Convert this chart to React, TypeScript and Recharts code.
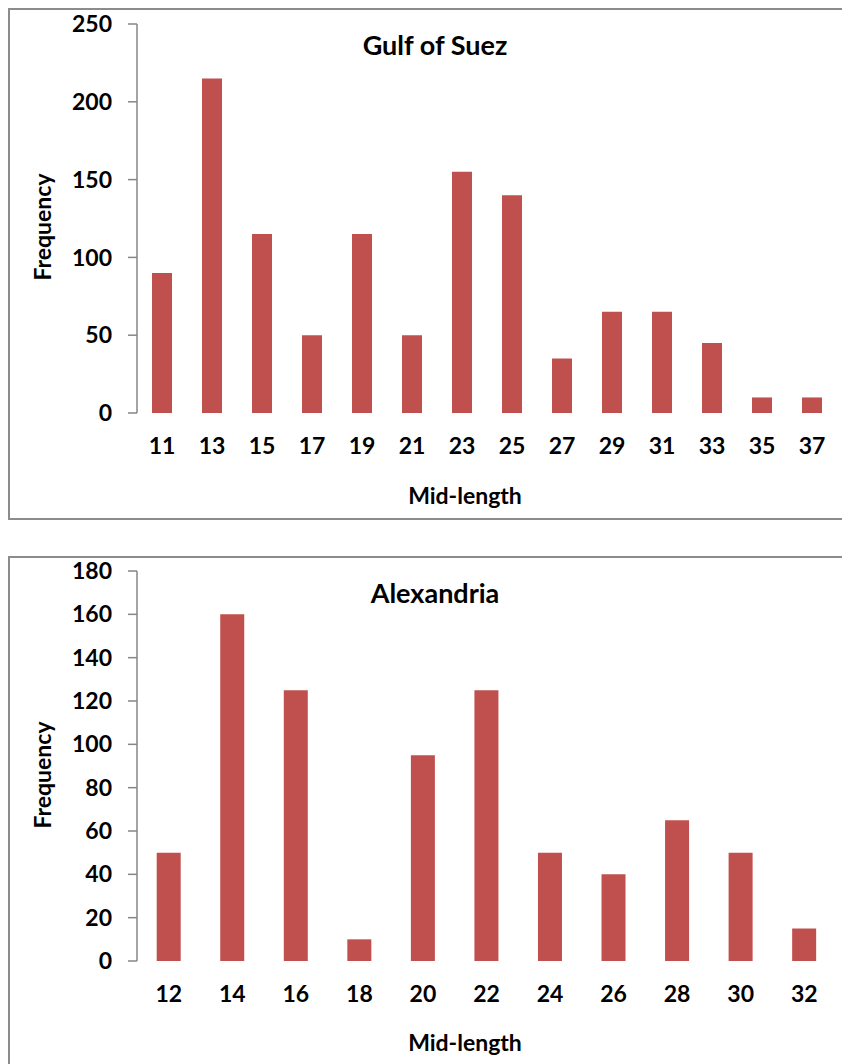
import { BarChart, Bar, XAxis, YAxis } from "recharts";

// Gulf of Suez
const suezLengths = [11, 13, 15, 17, 19, 21, 23, 25, 27, 29, 31, 33, 35, 37];
const suezFreq = [90, 215, 115, 50, 115, 50, 155, 140, 35, 65, 65, 45, 10, 10];
const suezTicks = [0, 50, 100, 150, 200, 250];

// Alexandria
const alexLengths = [12, 14, 16, 18, 20, 22, 24, 26, 28, 30, 32];
const alexFreq = [50, 160, 125, 10, 95, 125, 50, 40, 65, 50, 15];
const alexTicks = [0, 20, 40, 60, 80, 100, 120, 140, 160, 180];

const FONT = "Lato, 'Open Sans', sans-serif";
const AXIS = "#868686";
const BAR = "#C0504D";
const PAD = 20; // extra room above the plot so top tick labels are not clipped

interface PanelProps {
  title: string;
  lengths: number[];
  freq: number[];
  yTicks: number[];
  gap: string;
  height: number;
  marginRight: number;
  marginBottom: number;
  marginTop: number;
  style?: React.CSSProperties;
}

function Panel({ title, lengths, freq, yTicks, gap, height, marginRight, marginBottom, marginTop, style }: PanelProps) {
  const data = lengths.map((len, i) => ({ len, freq: freq[i] }));
  const edges = Array.from({ length: lengths.length + 1 }, (_, i) => i);
  return (
    <div
      style={{
        position: "relative",
        width: 860,
        height,
        border: "2px solid #8c8c8c",
        background: "#fff",
        ...style,
      }}
    >
      <div style={{ position: "absolute", left: 0, top: -PAD }}>
        <BarChart
          width={840}
          height={height + PAD}
          data={data}
          barCategoryGap={gap}
          margin={{ top: marginTop + PAD, right: marginRight, bottom: marginBottom, left: 57 }}
        >
          <XAxis
            xAxisId="edges"
            type="number"
            domain={[0, lengths.length]}
            ticks={edges}
            tick={false}
            tickSize={8}
            height={0}
            axisLine={{ stroke: AXIS, strokeWidth: 1.5 }}
            tickLine={{ stroke: AXIS, strokeWidth: 1.5 }}
          />
          <XAxis
            xAxisId="cat"
            dataKey="len"
            axisLine={false}
            tickLine={false}
            tickSize={0}
            tickMargin={25}
            height={40}
            interval={0}
            tick={{ fill: "#000", fontSize: 23, fontWeight: 700, fontFamily: FONT }}
          />
          <YAxis
            width={70}
            domain={[0, yTicks[yTicks.length - 1]]}
            ticks={yTicks}
            interval={0}
            tickSize={9}
            tickMargin={16}
            axisLine={{ stroke: AXIS, strokeWidth: 1.5 }}
            tickLine={{ stroke: AXIS, strokeWidth: 1.5 }}
            tick={{ fill: "#000", fontSize: 23, fontWeight: 700, fontFamily: FONT }}
          />
          <Bar xAxisId="cat" dataKey="freq" fill={BAR} isAnimationActive={false} />
        </BarChart>
      </div>
      <div
        style={{
          position: "absolute",
          left: 425,
          top: 34,
          transform: "translate(-50%, -50%)",
          fontFamily: FONT,
          fontWeight: 700,
          fontSize: 27,
          whiteSpace: "nowrap",
        }}
      >
        {title}
      </div>
    </div>
  );
}

const axisTitle: React.CSSProperties = {
  position: "absolute",
  fontFamily: FONT,
  fontWeight: 700,
  fontSize: 23,
  whiteSpace: "nowrap",
};

export default function App() {
  return (
    <div style={{ position: "relative", width: 842, height: 1056, overflow: "hidden" }}>
      <Panel
        title="Gulf of Suez"
        lengths={suezLengths}
        freq={suezFreq}
        yTicks={suezTicks}
        gap="30%"
        height={508}
        marginTop={14}
        marginRight={13}
        marginBottom={65}
      />
      <div style={{ ...axisTitle, left: 34, top: 219, transform: "translate(-50%, -50%) rotate(-90deg)" }}>
        Frequency
      </div>
      <div style={{ ...axisTitle, left: 457, top: 487, transform: "translate(-50%, -50%)" }}>
        Mid-length
      </div>
      <Panel
        title="Alexandria"
        lengths={alexLengths}
        freq={alexFreq}
        yTicks={alexTicks}
        gap="31%"
        height={520}
        marginTop={13}
        marginRight={14}
        marginBottom={77}
        style={{ marginTop: 36 }}
      />
      <div style={{ ...axisTitle, left: 34, top: 767, transform: "translate(-50%, -50%) rotate(-90deg)" }}>
        Frequency
      </div>
      <div style={{ ...axisTitle, left: 457, top: 1034, transform: "translate(-50%, -50%)" }}>
        Mid-length
      </div>
    </div>
  );
}
